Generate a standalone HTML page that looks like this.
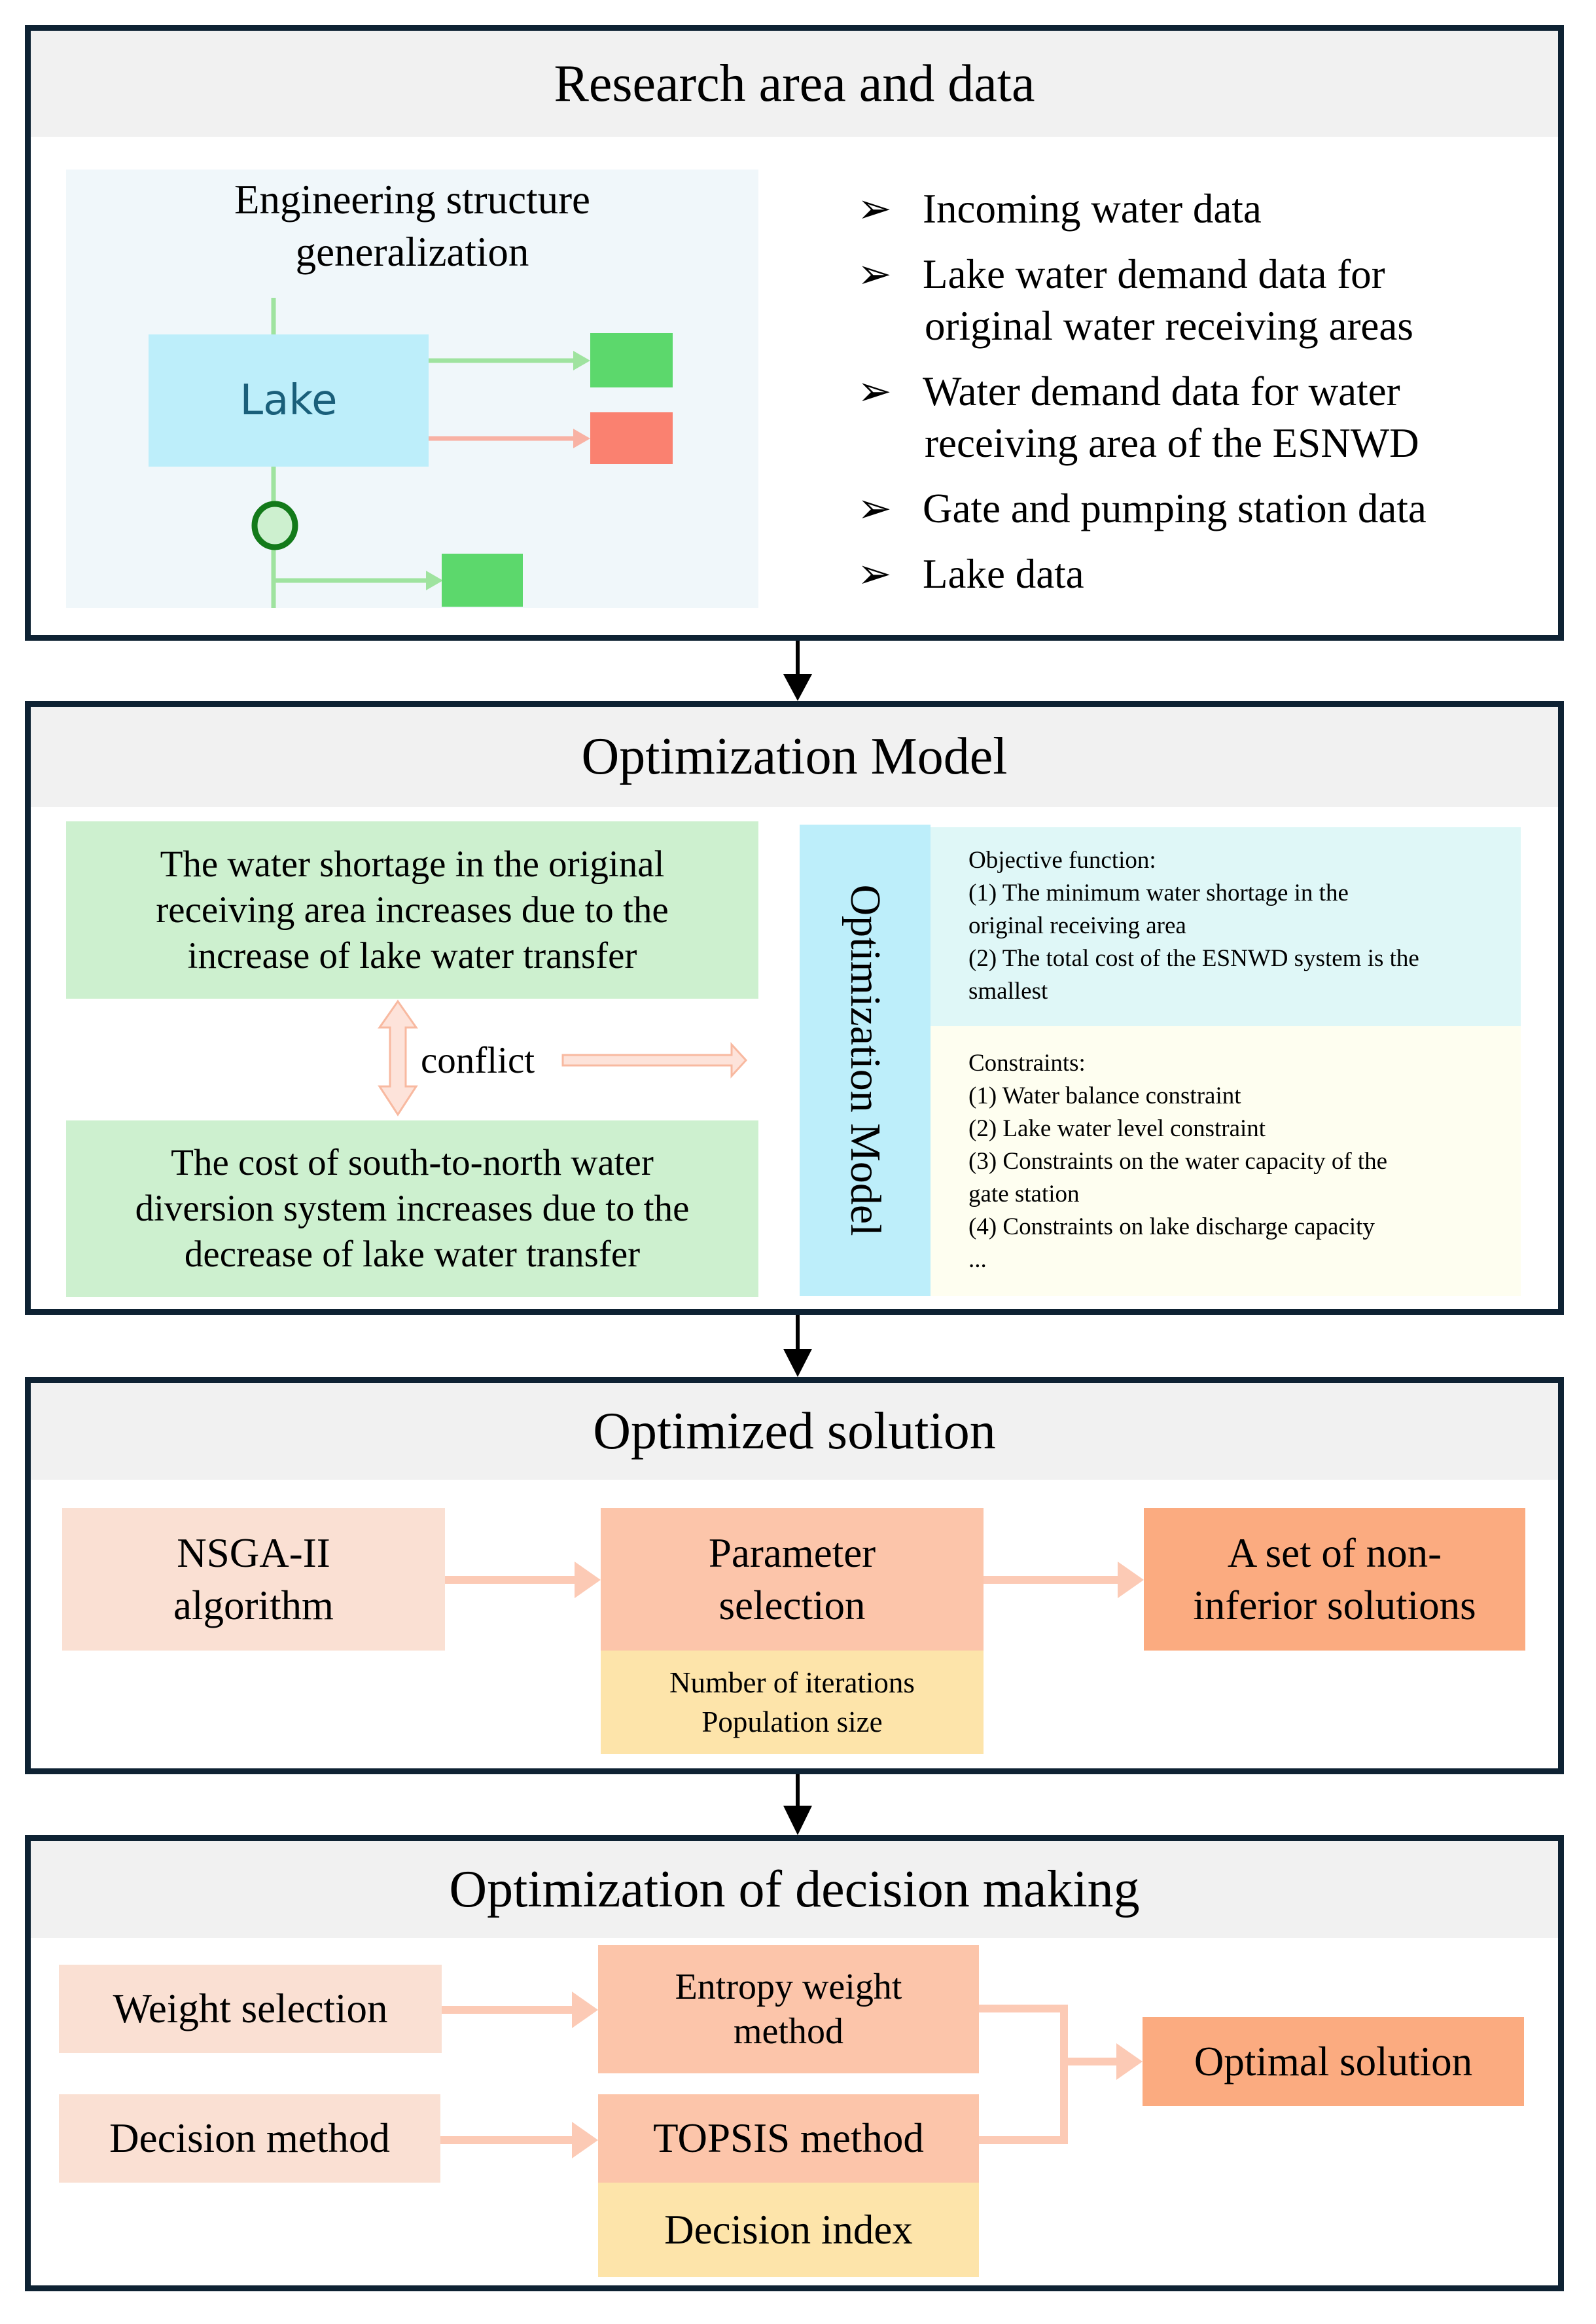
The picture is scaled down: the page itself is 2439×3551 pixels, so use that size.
<!DOCTYPE html>
<html><head><meta charset="utf-8"><style>
*{margin:0;padding:0;box-sizing:border-box}
body{width:2439px;height:3551px;background:#fff;position:relative;overflow:hidden;font-family:"Liberation Serif",serif;color:#000}
.a{position:absolute}
.frame{position:absolute;border:9px solid #0e2233;background:#fff}
.hdr{position:absolute;background:#f1f1f1;display:flex;align-items:center;justify-content:center;font-size:80px}
.box{position:absolute;display:flex;align-items:center;justify-content:center;text-align:center}
.t{position:absolute;white-space:nowrap}
</style></head><body>

<!-- Box 1 -->
<div class="frame" style="left:38px;top:38px;width:2352px;height:941px"></div>
<div class="hdr" style="left:47px;top:47px;width:2334px;height:162px">Research area and data</div>
<div class="a" style="left:101px;top:259px;width:1058px;height:670px;background:#f0f7fa"></div>
<div class="t" style="left:101px;width:1058px;text-align:center;top:265px;font-size:63px;line-height:80px">Engineering structure<br>generalization</div>
<svg class="a" style="left:0;top:0" width="2439" height="1080">
 <line x1="418" y1="455" x2="418" y2="929" stroke="#9fe39f" stroke-width="7"/>
 <line x1="655" y1="551" x2="880" y2="551" stroke="#9fe39f" stroke-width="7"/>
 <polygon points="876,536 902,551 876,566" fill="#9fe39f"/>
 <line x1="655" y1="670" x2="880" y2="670" stroke="#f8b2a4" stroke-width="7"/>
 <polygon points="876,655 902,670 876,685" fill="#f8b2a4"/>
 <line x1="418" y1="887" x2="655" y2="887" stroke="#9fe39f" stroke-width="7"/>
 <polygon points="651,872 677,887 651,902" fill="#9fe39f"/>
 <rect x="902" y="509" width="126" height="83" fill="#5cd86c"/>
 <rect x="902" y="630" width="126" height="79" fill="#fa8170"/>
 <rect x="675" y="846" width="124" height="81" fill="#5cd86c"/>
 <ellipse cx="420" cy="803" rx="31" ry="33" fill="#cdf0cf" stroke="#137a1a" stroke-width="9"/>
 <line x1="1219" y1="979" x2="1219" y2="1040" stroke="#000" stroke-width="6"/>
 <polygon points="1197,1030 1241,1030 1219,1071" fill="#000"/>
</svg>
<div class="box" style="left:227px;top:511px;width:428px;height:202px;background:#bdeefa;color:#1a5f7a;font-family:'DejaVu Sans','Liberation Sans',sans-serif;font-size:64px">Lake</div>
<div class="t" style="left:1310px;top:280px;font-size:63px;line-height:79px">
<div style="height:100px">➢&nbsp;&nbsp;&nbsp;Incoming water data</div>
<div>➢&nbsp;&nbsp;&nbsp;Lake water demand data for</div>
<div style="padding-left:103px;height:100px">original water receiving areas</div>
<div>➢&nbsp;&nbsp;&nbsp;Water demand data for water</div>
<div style="padding-left:103px;height:100px">receiving area of the ESNWD</div>
<div style="height:100px">➢&nbsp;&nbsp;&nbsp;Gate and pumping station data</div>
<div>➢&nbsp;&nbsp;&nbsp;Lake data</div>
</div>

<!-- Box 2 -->
<div class="frame" style="left:38px;top:1071px;width:2352px;height:938px"></div>
<div class="hdr" style="left:47px;top:1080px;width:2334px;height:153px">Optimization Model</div>
<div class="box" style="left:101px;top:1255px;width:1058px;height:271px;background:#cdf0cf;font-size:57px;line-height:70px">The water shortage in the original<br>receiving area increases due to the<br>increase of lake water transfer</div>
<div class="box" style="left:101px;top:1712px;width:1058px;height:270px;background:#cdf0cf;font-size:57px;line-height:70px">The cost of south-to-north water<br>diversion system increases due to the<br>decrease of lake water transfer</div>
<svg class="a" style="left:0;top:1500px" width="1300" height="260">
 <polygon points="608,30 636,70 620,70 620,160 636,160 608,203 580,160 596,160 596,70 580,70" fill="#fde3da" stroke="#f8b9a0" stroke-width="3"/>
 <polygon points="860,112 1118,112 1118,96 1140,120 1118,144 1118,128 860,128" fill="#fde3da" stroke="#f8b9a0" stroke-width="3"/>
</svg>
<div class="t" style="left:643px;top:1588px;font-size:57px">conflict</div>
<div class="a" style="left:1222px;top:1260px;width:200px;height:720px;background:#bdeefa"></div>
<div class="t" style="left:1322px;top:1620px;font-size:66px;transform:translate(-50%,-50%) rotate(90deg)">Optimization Model</div>
<div class="a" style="left:1422px;top:1264px;width:902px;height:304px;background:#dff7f7"></div>
<div class="a" style="left:1422px;top:1568px;width:902px;height:412px;background:#fefef0"></div>
<div class="t" style="left:1480px;top:1290px;font-size:37px;line-height:50px">Objective function:<br>(1) The minimum water shortage in the<br>original receiving area<br>(2) The total cost of the ESNWD system is the<br>smallest</div>
<div class="t" style="left:1480px;top:1600px;font-size:37px;line-height:50px">Constraints:<br>(1) Water balance constraint<br>(2) Lake water level constraint<br>(3) Constraints on the water capacity of the<br>gate station<br>(4) Constraints on lake discharge capacity<br>...</div>

<svg class="a" style="left:0;top:2009px" width="2439" height="100">
 <line x1="1219" y1="0" x2="1219" y2="60" stroke="#000" stroke-width="6"/>
 <polygon points="1197,52 1241,52 1219,95" fill="#000"/>
</svg>

<!-- Box 3 -->
<div class="frame" style="left:38px;top:2104px;width:2352px;height:607px"></div>
<div class="hdr" style="left:47px;top:2113px;width:2334px;height:148px">Optimized solution</div>
<div class="box" style="left:95px;top:2304px;width:585px;height:218px;background:#fae0d3;font-size:63px;line-height:80px">NSGA-II<br>algorithm</div>
<div class="box" style="left:918px;top:2304px;width:585px;height:218px;background:#fcc5aa;font-size:63px;line-height:80px">Parameter<br>selection</div>
<div class="box" style="left:918px;top:2522px;width:585px;height:158px;background:#fde4aa;font-size:45px;line-height:60px">Number of iterations<br>Population size</div>
<div class="box" style="left:1748px;top:2304px;width:583px;height:218px;background:#fbab80;font-size:63px;line-height:80px">A set of non-<br>inferior solutions</div>
<svg class="a" style="left:0;top:2380px" width="2439" height="70">
 <line x1="680" y1="34" x2="890" y2="34" stroke="#fccab5" stroke-width="12"/>
 <polygon points="878,6 918,34 878,62" fill="#fccab5"/>
 <line x1="1503" y1="34" x2="1720" y2="34" stroke="#fccab5" stroke-width="12"/>
 <polygon points="1708,6 1748,34 1708,62" fill="#fccab5"/>
</svg>

<svg class="a" style="left:0;top:2711px" width="2439" height="100">
 <line x1="1219" y1="0" x2="1219" y2="52" stroke="#000" stroke-width="6"/>
 <polygon points="1197,48 1241,48 1219,93" fill="#000"/>
</svg>

<!-- Box 4 -->
<div class="frame" style="left:38px;top:2804px;width:2352px;height:697px"></div>
<div class="hdr" style="left:47px;top:2813px;width:2334px;height:148px">Optimization of decision making</div>
<div class="box" style="left:90px;top:3002px;width:585px;height:135px;background:#fae0d3;font-size:63px">Weight selection</div>
<div class="box" style="left:90px;top:3200px;width:583px;height:135px;background:#fae0d3;font-size:63px">Decision method</div>
<div class="box" style="left:914px;top:2972px;width:582px;height:196px;background:#fcc5aa;font-size:56px;line-height:68px">Entropy weight<br>method</div>
<div class="box" style="left:914px;top:3200px;width:582px;height:135px;background:#fcc5aa;font-size:63px">TOPSIS method</div>
<div class="box" style="left:914px;top:3335px;width:582px;height:144px;background:#fde4aa;font-size:63px">Decision index</div>
<div class="box" style="left:1746px;top:3082px;width:583px;height:136px;background:#fbab80;font-size:63px">Optimal solution</div>
<svg class="a" style="left:0;top:3000px" width="2439" height="350">
 <line x1="675" y1="71" x2="880" y2="71" stroke="#fccab5" stroke-width="12"/>
 <polygon points="874,43 914,71 874,99" fill="#fccab5"/>
 <line x1="673" y1="270" x2="880" y2="270" stroke="#fccab5" stroke-width="12"/>
 <polygon points="874,242 914,270 874,298" fill="#fccab5"/>
 <polyline points="1496,69 1626,69 1626,270 1496,270" fill="none" stroke="#fccab5" stroke-width="12"/>
 <line x1="1626" y1="150" x2="1712" y2="150" stroke="#fccab5" stroke-width="12"/>
 <polygon points="1706,122 1746,150 1706,178" fill="#fccab5"/>
</svg>
</body></html>
